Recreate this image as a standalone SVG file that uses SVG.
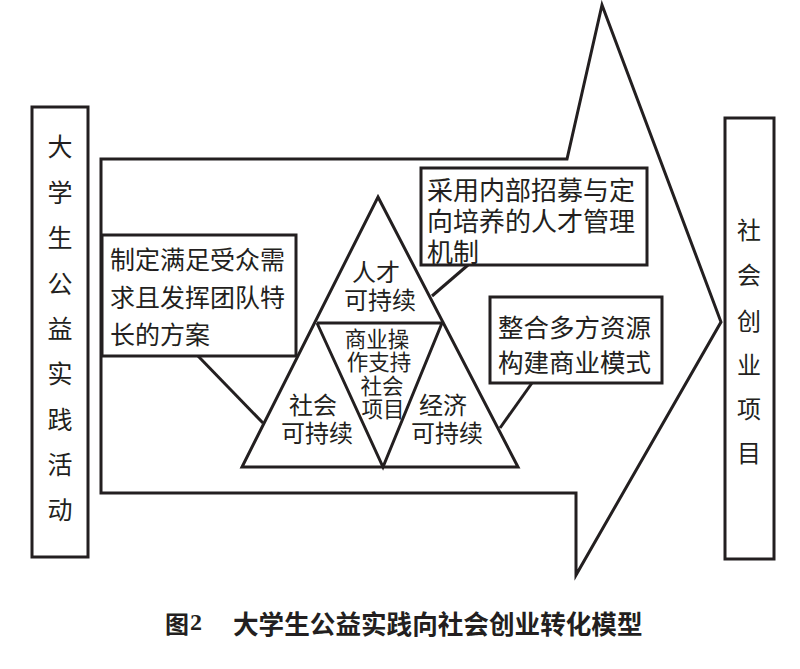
<svg xmlns="http://www.w3.org/2000/svg" width="800" height="669" viewBox="0 0 800 669">
<style>
.s{fill:none;stroke:#231f20;stroke-width:3;stroke-linejoin:miter}
.b{fill:#fff;stroke:#231f20;stroke-width:3}
.t{font-family:"Noto Sans CJK SC","Liberation Sans",sans-serif;fill:#231f20;dominant-baseline:central}
.m{text-anchor:middle}
</style>
<rect width="800" height="669" fill="#fff"/>
<g id="arrow">
<polygon class="b" points="101,159 567,159 602,5 721,322 576,575 576,493 101,493"/>
</g>
<g id="connectors">
<line class="s" x1="198" y1="356" x2="263" y2="423"/>
<line class="s" x1="468" y1="265" x2="432" y2="296"/>
<line class="s" x1="532" y1="383" x2="500" y2="428"/>
</g>
<g id="left-node">
<rect class="b" x="32" y="107" width="56" height="450"/>
<g class="t m" font-size="25">
<text x="60" y="145">大</text><text x="60" y="191">学</text><text x="60" y="236">生</text><text x="60" y="282">公</text><text x="60" y="327">益</text><text x="60" y="372">实</text><text x="60" y="418">践</text><text x="60" y="463">活</text><text x="60" y="508">动</text>
</g>
</g>
<g id="right-node">
<rect class="b" x="725" y="118" width="49" height="441"/>
<g class="t m" font-size="24">
<text x="749" y="228">社</text><text x="749" y="273">会</text><text x="749" y="319">创</text><text x="749" y="363">业</text><text x="749" y="407">项</text><text x="749" y="451">目</text>
</g>
</g>
<g id="plan-node">
<rect class="b" x="102" y="235" width="194" height="121"/>
<g class="t" font-size="25">
<text x="110" y="258">制定满足受众需</text><text x="110" y="296">求且发挥团队特</text><text x="110" y="333">长的方案</text>
</g>
</g>
<g id="talent-node">
<rect class="b" x="421" y="168" width="226" height="97"/>
<g class="t" font-size="26">
<text x="427" y="188">采用内部招募与定</text><text x="427" y="219">向培养的人才管理</text><text x="427" y="250">机制</text>
</g>
</g>
<g id="resource-node">
<rect class="b" x="490" y="297" width="172" height="86"/>
<g class="t" font-size="25.5">
<text x="498" y="325">整合多方资源</text><text x="498" y="360">构建商业模式</text>
</g>
</g>
<g id="triangle">
<polygon class="b" points="378,197 518,467 242,467"/>
<polyline class="s" points="317,323 442,323 383,467 317,323"/>
<g class="t m" font-size="24">
<text x="376" y="270">人才</text><text x="380" y="298">可持续</text>
<text x="313" y="403">社会</text><text x="317" y="431">可持续</text>
<text x="443" y="403">经济</text><text x="447" y="431">可持续</text>
</g>
<text class="t m" font-size="21.5"><tspan x="377" y="337">商业操</tspan><tspan x="379" y="360">作支持</tspan><tspan x="382" y="384">社会</tspan><tspan x="383" y="407">项目</tspan></text>
</g>
<g id="caption">
<text class="t" x="165" y="622" font-size="24" font-weight="bold">图</text>
<text x="190" y="630" font-family="Liberation Serif,serif" font-size="24" font-weight="bold" fill="#231f20">2</text>
<text class="t" x="233" y="622" font-size="25.6" font-weight="bold">大学生公益实践向社会创业转化模型</text>
</g>
</svg>
